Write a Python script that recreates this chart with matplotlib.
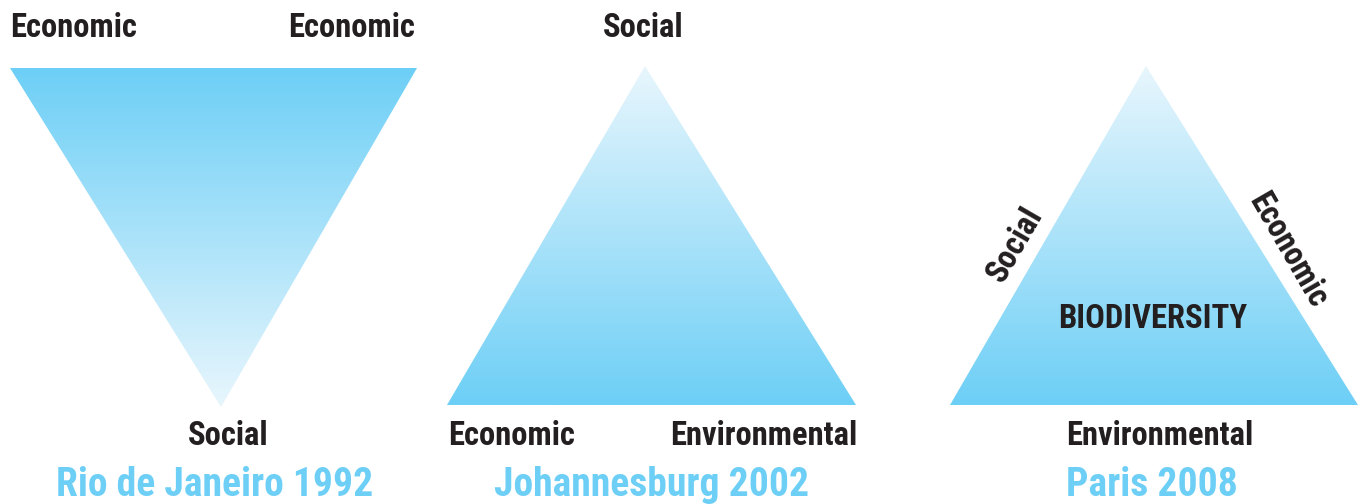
import numpy as np
import matplotlib
matplotlib.use('Agg')
from matplotlib import pyplot as plt
from matplotlib.colors import LinearSegmentedColormap
from matplotlib.patches import Polygon

plt.rcParams['font.family'] = ['Roboto Condensed', 'DejaVu Sans']
plt.rcParams['font.weight'] = 'bold'

# summits and their triangles (pixel coords of the picture)
titles = ['Rio de Janeiro 1992', 'Johannesburg 2002', 'Paris 2008']
triangles = [
    [(10, 68), (417, 68), (221, 407)],     # upside down
    [(645, 66), (856, 405), (447, 405)],
    [(1146, 66), (1358, 405), (950, 405)],
]
# gradient direction: True = dark at top
dark_top = [True, False, False]

# corner / side labels: (text, x, y, ha, rotation)
labels = [
    ('Economic', 10, 28, 'left', 0),
    ('Economic', 415, 28, 'right', 0),
    ('Social', 228, 436, 'center', 0),
    ('Social', 643, 28, 'center', 0),
    ('Economic', 448, 436, 'left', 0),
    ('Environmental', 857, 436, 'right', 0),
    ('Environmental', 1160, 436, 'center', 0),
    ('Social', 1015, 245, 'center', 60),
    ('Economic', 1288, 250, 'center', -60),
]
title_x = [215, 652, 1152]

dark = '#6DCFF6'
light = '#E8F6FD'
cmap = LinearSegmentedColormap.from_list('blu', [light, dark])

fig = plt.figure(figsize=(13.6, 5.04), dpi=100)
ax = fig.add_axes([0, 0, 1, 1])
ax.set_xlim(0, 1360)
ax.set_ylim(504, 0)
ax.axis('off')

grad = np.linspace(0, 1, 256).reshape(-1, 1)
for pts, top in zip(triangles, dark_top):
    xs = [p[0] for p in pts]
    ys = [p[1] for p in pts]
    poly = Polygon(pts, closed=True, facecolor='none', edgecolor='none')
    ax.add_patch(poly)
    g = grad[::-1] if top else grad
    im = ax.imshow(g, cmap=cmap, aspect='auto', interpolation='bilinear',
                   extent=[min(xs), max(xs), max(ys), min(ys)], origin='upper')
    im.set_clip_path(poly)

for txt, x, y, ha, rot in labels:
    ax.text(x, y, txt, ha=ha, va='center', rotation=rot, rotation_mode='anchor',
            fontsize=23.5, color='#231F20', fontweight='bold')

ax.text(1153, 319, 'BIODIVERSITY', ha='center', va='center', fontsize=23.5,
        color='#231F20', fontweight='bold')

for t, x in zip(titles, title_x):
    ax.text(x, 485, t, ha='center', va='center', fontsize=28.5, color=dark,
            fontweight='bold')

ax.set_xlim(0, 1360)
ax.set_ylim(504, 0)
fig.savefig('out.png', dpi=100)
